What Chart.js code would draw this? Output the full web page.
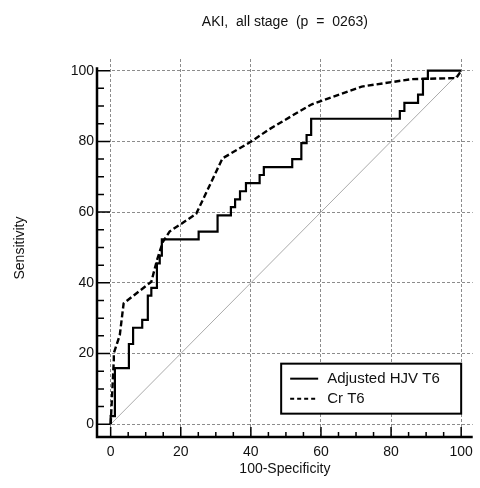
<!DOCTYPE html>
<html>
<head>
<meta charset="utf-8">
<title>ROC</title>
<script src="https://cdn.jsdelivr.net/npm/chart.js@4"></script>
<style>
  html, body { margin: 0; padding: 0; background: #fff; }
</style>
</head>
<body>
<canvas id="roc" width="480" height="488"></canvas>
<script>
var chartTitle = 'AKI,  all stage  (p  =  0263)';
var tickValues = [0, 20, 40, 60, 80, 100];

// Adjusted HJV T6 - empirical ROC (steps)
var hjvFpr  = [0, 0,   1.2,  5.2,  6.4,  9.0,  10.6, 11.6, 13.2, 14.0, 14.6, 25.1, 30.5, 34.3, 35.5, 36.9, 38.6, 42.5, 43.7, 51.8, 54.4, 55.9, 57.2, 82.5, 83.8, 87.7, 89.1, 90.5, 100];
var hjvSens = [0, 2.3, 15.9, 22.7, 27.3, 29.5, 36.4, 38.6, 45.5, 47.7, 52.3, 54.5, 59.1, 61.4, 63.6, 65.9, 68.2, 70.5, 72.7, 75.0, 79.5, 81.8, 86.4, 88.6, 90.9, 93.2, 97.7, 100, 100];

// Cr T6
var crFpr  = [0, 0.9,  0.9,  2.6,  3.7,  11.6, 13.2, 14.9, 16.8, 24.4, 31.9, 40.0, 45.2, 53.7, 57.4, 71.6, 85.8, 98.6, 100];
var crSens = [0, 18.2, 20.1, 25.2, 34.2, 40.3, 46.4, 51.6, 54.5, 59.5, 75.2, 79.9, 83.4, 88.4, 90.5, 95.5, 97.6, 97.9, 100];

function toPoints(xs, ys) {
  return xs.map(function (x, i) { return { x: x, y: ys[i] }; });
}

Chart.defaults.font.family = "'Liberation Sans', Arial, sans-serif";
Chart.defaults.font.size = 14;
Chart.defaults.color = '#111';

// axes, minor ticks, title and boxed legend
var rocDecor = {
  id: 'rocDecor',
  afterDatasetsDraw: function (chart) {
    var ctx = chart.ctx;
    var area = chart.chartArea;
    var xs = chart.scales.x, ys = chart.scales.y;
    ctx.save();

    ctx.strokeStyle = '#000';
    ctx.lineWidth = 2.5;
    ctx.beginPath();
    ctx.moveTo(area.left, ys.getPixelForValue(101));
    ctx.lineTo(area.left, area.bottom);
    ctx.lineTo(area.right, area.bottom);
    ctx.stroke();

    ctx.lineWidth = 1.5;
    ctx.beginPath();
    for (var v = 0; v <= 100; v += 5) {
      var major = v % 20 === 0;
      var px = xs.getPixelForValue(v);
      ctx.moveTo(px, area.bottom);
      ctx.lineTo(px, area.bottom - (major ? 10 : 5));
      var py = ys.getPixelForValue(v);
      ctx.moveTo(area.left, py);
      ctx.lineTo(area.left + (major ? 13 : 7), py);
    }
    ctx.stroke();

    ctx.fillStyle = '#111';
    ctx.font = "14px 'Liberation Sans', Arial, sans-serif";
    ctx.textAlign = 'center';
    ctx.textBaseline = 'middle';
    ctx.fillText(chartTitle, (area.left + area.right) / 2, 22);

    var right = xs.getPixelForValue(100);
    var bottom = ys.getPixelForValue(3);
    var lw = 180, lh = 50;
    var left = right - lw, top = bottom - lh;
    ctx.fillStyle = '#fff';
    ctx.fillRect(left, top, lw, lh);
    ctx.strokeStyle = '#000';
    ctx.lineWidth = 2;
    ctx.strokeRect(left, top, lw, lh);

    var sets = chart.data.datasets.slice(0, 2);
    ctx.textAlign = 'left';
    ctx.font = "15px 'Liberation Sans', Arial, sans-serif";
    sets.forEach(function (ds, i) {
      var y = top + 15 + i * 20;
      ctx.lineWidth = 2;
      ctx.setLineDash(ds.borderDash ? [4, 3] : []);
      ctx.beginPath();
      ctx.moveTo(left + 9, y);
      ctx.lineTo(left + 37, y);
      ctx.stroke();
      ctx.setLineDash([]);
      ctx.fillStyle = '#111';
      ctx.fillText(ds.label, left + 46, y);
    });
    ctx.restore();
  }
};

function fixedTicks(scale) {
  scale.ticks = tickValues.map(function (v) { return { value: v }; });
}

new Chart(document.getElementById('roc'), {
  type: 'scatter',
  data: {
    datasets: [{
      label: 'Adjusted HJV T6',
      data: toPoints(hjvFpr, hjvSens),
      showLine: true,
      stepped: 'before',
      borderColor: '#000',
      borderWidth: 2.2,
      pointRadius: 0
    }, {
      label: 'Cr T6',
      data: toPoints(crFpr, crSens),
      showLine: true,
      borderColor: '#000',
      borderWidth: 2.4,
      borderDash: [6, 3],
      pointRadius: 0
    }, {
      label: 'reference',
      data: toPoints([0, 100], [0, 100]),
      showLine: true,
      borderColor: '#aaa',
      borderWidth: 1,
      pointRadius: 0
    }]
  },
  options: {
    responsive: false,
    animation: false,
    layout: { padding: { top: 59, right: 5, left: 0, bottom: 0 } },
    plugins: {
      legend: { display: false },
      tooltip: { enabled: false }
    },
    scales: {
      x: {
        type: 'linear',
        min: -3.9,
        max: 103.3,
        afterBuildTicks: fixedTicks,
        afterFit: function (s) { s.height = 51; },
        grid: { color: 'rgba(0,0,0,0.45)', drawTicks: false },
        border: { display: false, dash: [3, 2] },
        ticks: { padding: 7, maxRotation: 0 },
        title: { display: true, text: '100-Specificity', padding: { top: 0, bottom: 10 } }
      },
      y: {
        type: 'linear',
        min: -3.6,
        max: 103.3,
        afterBuildTicks: fixedTicks,
        afterFit: function (s) { s.width = 97; },
        grid: { color: 'rgba(0,0,0,0.45)', drawTicks: false },
        border: { display: false, dash: [3, 2] },
        ticks: { padding: 3 },
        title: { display: true, text: 'Sensitivity', padding: { top: 12, bottom: 0 } }
      }
    }
  },
  plugins: [rocDecor]
});
</script>
</body>
</html>
